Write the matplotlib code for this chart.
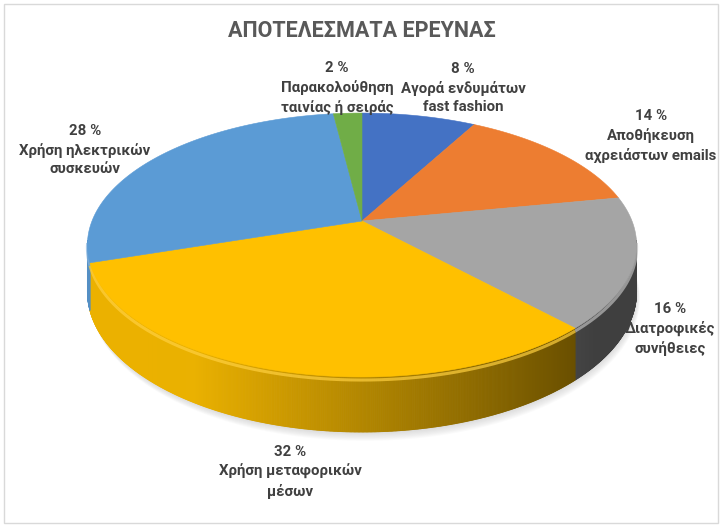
import numpy as np
import matplotlib
matplotlib.use('Agg')
import matplotlib.pyplot as plt
from matplotlib.patches import Polygon, Rectangle
from matplotlib.collections import PolyCollection
from matplotlib.colors import to_rgb

plt.rcParams['font.family'] = ['Roboto', 'DejaVu Sans']

# ---------------- data ----------------
title = "ΑΠΟΤΕΛΕΣΜΑΤΑ ΕΡΕΥΝΑΣ"
categories = ["Αγορά ενδυμάτων\nfast fashion",
              "Αποθήκευση\nαχρειάστων emails",
              "Διατροφικές\nσυνήθειες",
              "Χρήση μεταφορικών\nμέσων",
              "Χρήση ηλεκτρικών\nσυσκευών",
              "Παρακολούθηση\nταινίας ή σειράς"]
values = [8, 14, 16, 32, 28, 2]
colors = ["#4472C4", "#ED7D31", "#A5A5A5", "#FFC000", "#5B9BD5", "#70AD47"]

# ---------------- layout ----------------
W, H = 723, 528
fig = plt.figure(figsize=(W / 100, H / 100), dpi=100)
ax = fig.add_axes([0, 0, 1, 1])
ax.set_xlim(0, W)
ax.set_ylim(H, 0)
ax.axis('off')

CX, CY = 362, 221       # projected pie centre (pixels)
RA, RB = 270, 127.6     # horizontal / depth radii
PERSP = 0.182           # perspective strength
DEPTH = 45              # pie thickness
label_pos = [(463, 88), (651, 136), (670, 329), (290, 472), (85, 150), (337, 88)]


def proj(phi, depth=0.0, r=1.0):
    x = r * np.sin(phi)
    y = -r * np.cos(phi)
    w = 1 - PERSP * y
    return CX + RA * x / w, CY + RB * y / w + depth / w


def shade(c, f):
    c = np.array(to_rgb(c))
    return tuple(np.clip(c * f, 0, 1))


def lighten(c, f):
    c = np.array(to_rgb(c))
    return tuple(c + (1 - c) * f)


total = float(sum(values))
bounds = np.concatenate([[0.0], np.cumsum(values)]) / total * 2 * np.pi

# chart border
ax.add_patch(Rectangle((4, 4), 714, 519, fill=False, edgecolor='#D9D9D9', lw=1.0, zorder=0))

# soft shadow under the pie
full = np.linspace(0, 2 * np.pi, 400)
for k in range(1, 9):
    xs, ys = proj(full, DEPTH + k * 0.9)
    ax.add_patch(Polygon(np.column_stack([xs + k * 0.4, ys]), closed=True,
                         facecolor='#808080', edgecolor='none', alpha=0.035, zorder=1))

# outer side walls (front half, between the silhouette tangent points)
vis_lo, vis_hi = np.deg2rad(98.5), np.deg2rad(261.5)
quads, qcols = [], []
for i, v in enumerate(values):
    a0, a1 = max(bounds[i], vis_lo), min(bounds[i + 1], vis_hi)
    if a1 <= a0:
        continue
    n = max(2, int((a1 - a0) / 0.004))
    ph = np.linspace(a0, a1, n + 1)
    for j in range(n):
        p0, p1 = ph[j], ph[j + 1]
        x0, y0 = proj(p0)
        x1, y1 = proj(p1)
        x2, y2 = proj(p1, DEPTH)
        x3, y3 = proj(p0, DEPTH)
        quads.append([(x0, y0), (x1, y1), (x2, y2), (x3, y3)])
        pm = 0.5 * (p0 + p1)
        f = np.clip(0.70 - 0.42 * np.sin(pm), 0.38, 0.92)
        qcols.append(shade(colors[i], f))
pc = PolyCollection(quads, facecolors=qcols, edgecolors=qcols, linewidths=0.6, zorder=2)
ax.add_collection(pc)

# rim highlight on top of the side wall
for i, v in enumerate(values):
    a0, a1 = max(bounds[i], vis_lo), min(bounds[i + 1], vis_hi)
    if a1 <= a0:
        continue
    ph = np.linspace(a0, a1, 200)
    xs, ys = proj(ph, 2.5)
    ax.plot(xs, ys, color=lighten(colors[i], 0.25), lw=2.2, alpha=0.7,
            solid_capstyle='butt', zorder=2.5)

# top faces
for i, v in enumerate(values):
    ph = np.linspace(bounds[i], bounds[i + 1], 200)
    xs, ys = proj(ph)
    pts = np.vstack([[CX, CY], np.column_stack([xs, ys])])
    ax.add_patch(Polygon(pts, closed=True, facecolor=colors[i], edgecolor=colors[i],
                         lw=0.4, zorder=3))

# title
ax.text(W / 2, 31, title, ha='center', va='center', fontsize=15.5,
        color='#595959', fontweight='bold', zorder=5)

# data labels
for i, v in enumerate(values):
    lx, ly = label_pos[i]
    ax.text(lx, ly, f"{v} %\n{categories[i]}", ha='center', va='center',
            fontsize=10.8, fontweight='bold', color='#404040',
            linespacing=1.42, zorder=5)

fig.savefig('out.png', dpi=100)
